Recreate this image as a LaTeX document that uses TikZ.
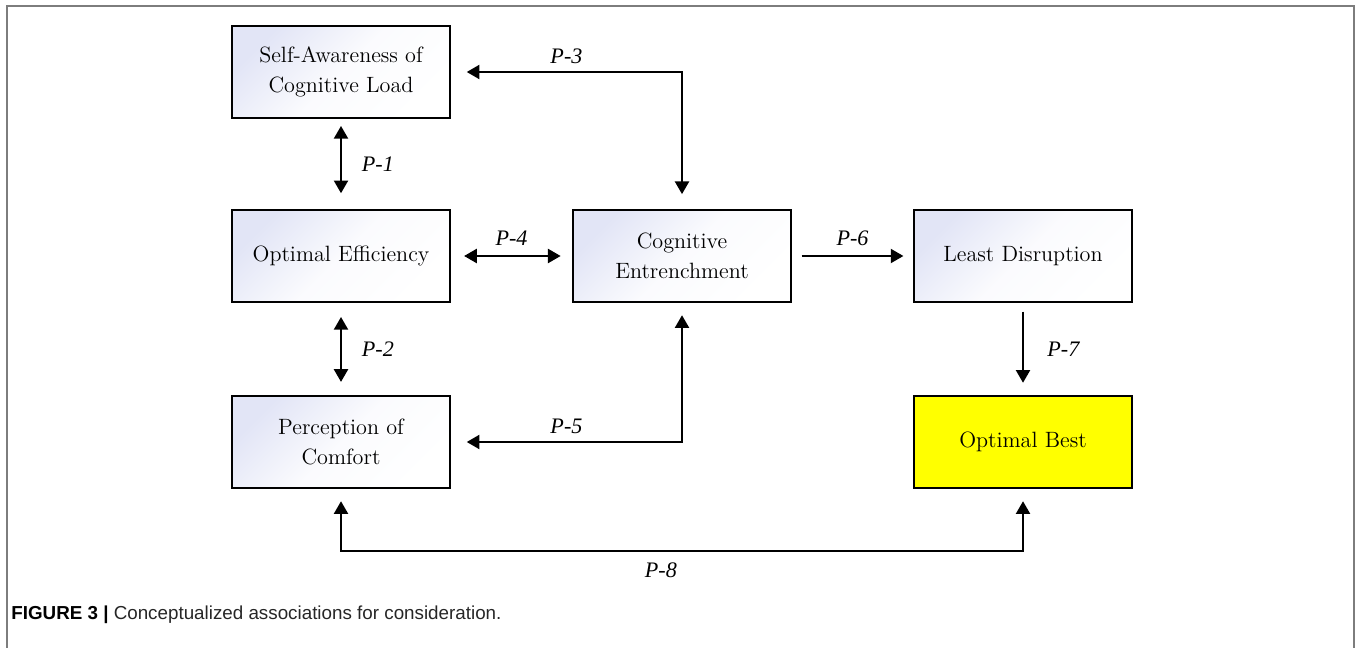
\documentclass[tikz,border=0pt]{standalone}
\usepackage{fontspec}
\newfontfamily\capfont{Liberation Sans}
\newfontfamily\propfont{Liberation Serif}
\usepackage{xcolor}
\usetikzlibrary{arrows.meta,positioning,calc}
\definecolor{boxtint}{RGB}{226,229,246}
\definecolor{framegray}{RGB}{125,125,125}
\definecolor{bestyellow}{RGB}{255,255,0}

\begin{document}
\begin{tikzpicture}[x=0.02cm, y=-0.02cm, >={Triangle[length=7.2pt, width=8pt]},
  concept/.style={draw, line width=1.1pt, minimum width=4.36cm, minimum height=1.84cm,
    align=center, font=\fontsize{12.6}{17}\selectfont},
  tinted/.style={concept, top color=boxtint, bottom color=white, middle color=white!85!boxtint, shading angle=45},
  link/.style={line width=1.1pt},
  plabel/.style={font=\propfont\fontsize{12.6}{14}\selectfont\itshape}]
\useasboundingbox (0,0) rectangle (1358,648);
% --- frame ---
\draw[framegray, line width=1.1pt] (7,648) -- (7,6) -- (1354,6) -- (1354,648);
% --- concepts ---
\node[tinted] (aware) at (341,72) {Self-Awareness of\\Cognitive Load};
\node[tinted] (eff) at (341,256) {Optimal Efficiency};
\node[tinted] (entr) at (682,256) {Cognitive\\Entrenchment};
\node[tinted] (disr) at (1023,256) {Least Disruption};
\node[tinted] (comf) at (341,442) {Perception of\\Comfort};
\node[concept, fill=bestyellow] (best) at (1023,442) {Optimal Best};
% --- propositions ---
\draw[link, <->, shorten <=4pt, shorten >=9pt] (aware) -- (eff)
  node[plabel, midway, right=8pt] {P-1};
\draw[link, <->, shorten <=8pt, shorten >=7.5pt] (eff) -- (comf)
  node[plabel, midway, right=8pt] {P-2};
\draw[link, <->, shorten <=9pt, shorten >=8.5pt] (aware.east) -| (entr.north)
  node[plabel, pos=.25, above=1pt] {P-3};
\draw[link, <->, shorten <=7.5pt, shorten >=6.5pt] (eff) -- (entr)
  node[plabel, midway, above=2pt] {P-4};
\draw[link, <->, shorten <=9pt, shorten >=7pt] (comf.east) -| (entr.south)
  node[plabel, pos=.25, above=1pt] {P-5};
\draw[link, ->, shorten <=5.5pt, shorten >=5.5pt] (entr) -- (disr)
  node[plabel, midway, above=2pt] {P-6};
\draw[link, ->, shorten <=5pt, shorten >=7pt] (disr) -- (best)
  node[plabel, midway, right=10pt] {P-7};
\draw[link, <->, shorten <=7pt, shorten >=7pt] (comf.south) -- ++(0,62) -| (best.south)
  node[plabel, pos=.25, below=3pt, xshift=-12pt] {P-8};
% --- caption ---
\node[anchor=west, inner sep=0pt, text=black!85, font=\capfont\fontsize{10.7}{12}\selectfont] (cap) at (11,615)
  {\textbf{\color{black}FIGURE 3 |} Conceptualized associations for consideration.};
\end{tikzpicture}
\end{document}
